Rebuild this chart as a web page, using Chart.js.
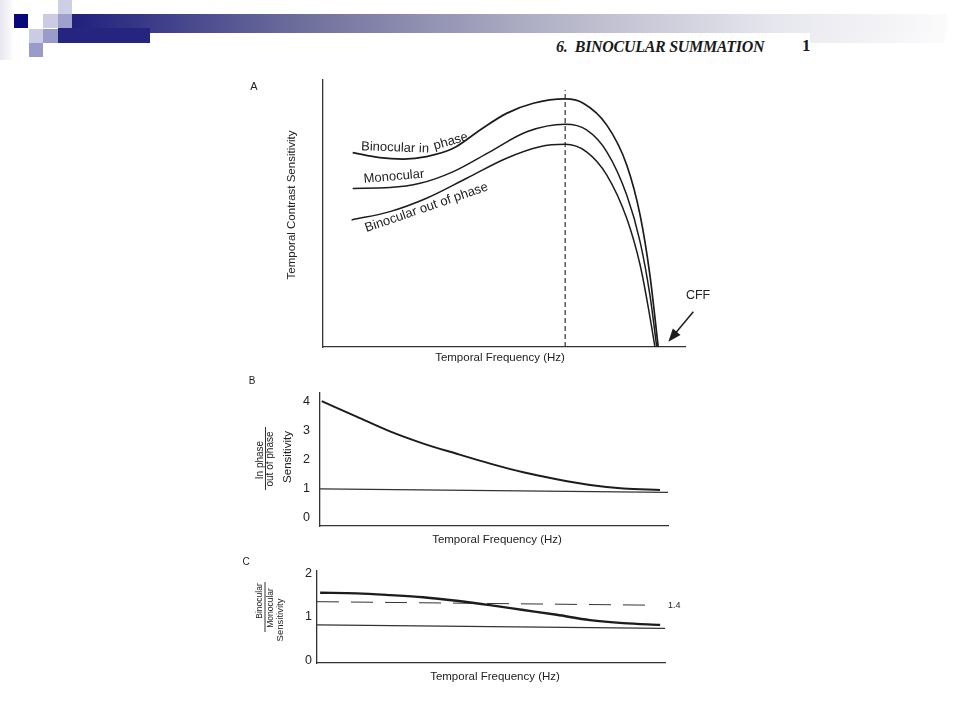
<!DOCTYPE html>
<html>
<head>
<meta charset="utf-8">
<script src="https://cdn.jsdelivr.net/npm/chart.js@4.4.1/dist/chart.umd.min.js"></script>
<style>
  body { margin: 0; width: 960px; height: 720px; background: #fff; position: relative; overflow: hidden; font-family: "Liberation Sans", Arial, sans-serif; }
  .sq { position: absolute; }
  canvas { position: absolute; }
  .head { position: absolute; font-family: "Liberation Serif", "Times New Roman", serif; color: #1a1a1a; white-space: nowrap; }
</style>
</head>
<body>

<!-- slide template decoration -->
<div class="sq" style="left:0;top:0;width:14px;height:60px;background:linear-gradient(90deg,#e6e6f0,#fff)"></div>
<div class="sq" style="left:58px;top:0;width:14px;height:14px;background:#cdd0e4"></div>
<div class="sq" style="left:14px;top:14px;width:14px;height:14px;background:#08087c"></div>
<div class="sq" style="left:43px;top:14px;width:15px;height:14px;background:#cbcbe3"></div>
<div class="sq" style="left:58px;top:14px;width:14px;height:14px;background:#a0a0cc"></div>
<div class="sq" style="left:29px;top:29px;width:14px;height:14px;background:#cbcbe3"></div>
<div class="sq" style="left:43px;top:29px;width:15px;height:14px;background:#9a9acb"></div>
<div class="sq" style="left:29px;top:43px;width:14px;height:14px;background:#9a9acb"></div>
<div class="sq" style="left:72px;top:14px;width:875px;height:19px;background:linear-gradient(90deg,#20207e 0%,#6e6e9c 26%,#b4b4c8 55%,#e6e6ee 80%,#fbfbfc 100%)"></div>
<div class="sq" style="left:58px;top:28px;width:92px;height:15px;background:#25257f"></div>
<div class="sq" style="left:810px;top:33px;width:135px;height:10px;background:linear-gradient(90deg,#ececf1,#fbfbfc)"></div>

<div class="head" style="left:556px;top:38px;font-size:16px;font-style:italic;font-weight:bold;letter-spacing:-0.3px;">6.&nbsp; BINOCULAR SUMMATION</div>
<div class="head" style="left:802px;top:36px;font-size:17px;font-weight:bold;">1</div>

<canvas id="chartA" width="480" height="300" style="left:240px;top:70px"></canvas>
<canvas id="chartB" width="440" height="170" style="left:240px;top:375px"></canvas>
<canvas id="chartC" width="460" height="135" style="left:240px;top:555px"></canvas>

<script>
// ---- data (arbitrary units 0..100 on A) ----
// panel A: temporal contrast sensitivity curves
const inPhaseX = [8.2, 15.7, 22.2, 28.6, 36.0, 43.4, 50.7, 58.1, 66.9, 71.9, 78.4, 83.9, 87.6, 90.3, 92.6];
const inPhaseY = [72.8, 70.9, 70.4, 71.3, 74.4, 81.3, 87.5, 91.3, 92.9, 91.3, 83.1, 68.2, 49.4, 27.0, 0];
const monoX = [8.2, 18.5, 26.8, 36.0, 46.1, 56.3, 66.9, 72.8, 78.4, 83.9, 87.6, 90.3, 92.2];
const monoY = [59.4, 59.7, 61.3, 65.7, 73.1, 80.6, 83.4, 81.3, 73.1, 56.9, 39.4, 19.5, 0];
const outPhaseX = [7.9, 18.5, 28.6, 39.7, 50.7, 59.9, 66.9, 72.8, 78.4, 83.9, 87.6, 89.9, 91.7];
const outPhaseY = [47.6, 50.7, 55.7, 63.2, 70.7, 75.0, 75.9, 73.1, 64.4, 48.2, 30.7, 14.5, 0];
const peakX = [66.9, 66.9];
const peakY = [0, 96.3];

// panel B: in phase / out of phase ratio
const ratioX = [0.5, 10.5, 20.1, 29.7, 39.3, 48.9, 58.4, 68.0, 77.6, 87.2, 97.7];
const ratioY = [4.0, 3.47, 2.96, 2.54, 2.19, 1.85, 1.55, 1.31, 1.11, 0.99, 0.94];
const oneLineBX = [0, 100];
const oneLineBY = [0.98, 0.86];
const ticksB = [0, 1, 2, 3, 4];

// panel C: binocular / monocular ratio
const binoX = [0.9, 11.4, 21.0, 30.5, 40.1, 49.7, 59.3, 68.9, 78.4, 88.0, 98.6];
const binoY = [1.555, 1.54, 1.50, 1.45, 1.37, 1.27, 1.16, 1.05, 0.93, 0.86, 0.82];
const oneLineCX = [0, 100];
const oneLineCY = [0.82, 0.74];
const sqrt2X = [0, 95.7];
const sqrt2Y = [1.35, 1.27];
const ticksC = [0, 1, 2];

const INK = '#1c1c1c';
const FONT = '"Liberation Sans", Arial, sans-serif';

function pts(xs, ys) {
  return xs.map((x, i) => ({ x: x, y: ys[i] }));
}

function curve(xs, ys, width) {
  return {
    data: pts(xs, ys),
    borderColor: INK,
    borderWidth: width,
    pointRadius: 0,
    fill: false,
    cubicInterpolationMode: 'monotone'
  };
}

function straight(xs, ys, width, dash) {
  return {
    data: pts(xs, ys),
    borderColor: '#333',
    borderWidth: width,
    borderDash: dash || [],
    pointRadius: 0,
    fill: false,
    tension: 0
  };
}

function drawText(ctx, text, x, y, size, angle, align) {
  ctx.save();
  ctx.translate(x, y);
  ctx.rotate((angle || 0) * Math.PI / 180);
  ctx.font = size + 'px ' + FONT;
  ctx.fillStyle = '#222';
  ctx.textAlign = align || 'center';
  ctx.textBaseline = 'middle';
  ctx.fillText(text, 0, 0);
  ctx.restore();
}

// yWidth: room kept for the y tick labels (labels are clipped to the scale box)
function scales(yMin, yMax, yTicks, tickPad, yWidth) {
  return {
    x: {
      type: 'linear', min: 0, max: 100,
      grid: { display: false, drawTicks: false },
      ticks: { display: false },
      border: { color: '#333', width: 1.3 },
      afterFit: s => { s.height = 0; }
    },
    y: {
      type: 'linear', min: yMin, max: yMax,
      grid: { display: false, drawTicks: false },
      ticks: {
        display: !!yTicks,
        padding: tickPad || 0,
        color: '#222',
        font: { family: FONT, size: 12.5 }
      },
      afterBuildTicks: s => { if (yTicks) s.ticks = yTicks.map(v => ({ value: v })); },
      border: { color: '#333', width: 1.3 },
      afterFit: s => { s.width = yWidth || 0; }
    }
  };
}

const common = {
  responsive: false,
  animation: false,
  devicePixelRatio: 1,
  plugins: { legend: { display: false }, tooltip: { enabled: false } }
};

// curve labels in panel A, placed in data units
const labelsA = [
  { text: 'Binocular in', x: 19.9, y: 74.6, angle: 2 },
  { text: 'phase', x: 35.3, y: 77.0, angle: -16 },
  { text: 'Monocular', x: 19.6, y: 63.8, angle: -5 },
  { text: 'Binocular out of phase', x: 28.6, y: 52.2, angle: -19 }
];

new Chart(document.getElementById('chartA'), {
  type: 'line',
  data: {
    datasets: [
      curve(inPhaseX, inPhaseY, 1.7),
      curve(monoX, monoY, 1.5),
      curve(outPhaseX, outPhaseY, 1.5),
      straight(peakX, peakY, 1.2, [5, 3])
    ]
  },
  options: Object.assign({}, common, {
    layout: { padding: { left: 83, right: 35, top: 10, bottom: 23 } },
    scales: scales(0, 100)
  }),
  plugins: [{
    id: 'notesA',
    afterDraw(chart) {
      const ctx = chart.ctx, xs = chart.scales.x, ys = chart.scales.y;
      labelsA.forEach(l => drawText(ctx, l.text, xs.getPixelForValue(l.x), ys.getPixelForValue(l.y), 13, l.angle));
      drawText(ctx, 'A', 14, 17, 11);
      drawText(ctx, 'Temporal Contrast Sensitivity', 52, 135, 11.5, -90);
      drawText(ctx, 'Temporal Frequency (Hz)', 260, 288, 11.5);
      // CFF marker
      drawText(ctx, 'CFF', xs.getPixelForValue(103.6), ys.getPixelForValue(19.1), 12.5);
      const x0 = xs.getPixelForValue(102.3), y0 = ys.getPixelForValue(13.2);
      const x1 = xs.getPixelForValue(95.4), y1 = ys.getPixelForValue(2.0);
      const a = Math.atan2(y1 - y0, x1 - x0);
      ctx.save();
      ctx.strokeStyle = INK;
      ctx.fillStyle = INK;
      ctx.lineWidth = 1.5;
      ctx.beginPath();
      ctx.moveTo(x0, y0);
      ctx.lineTo(x1 - 8 * Math.cos(a), y1 - 8 * Math.sin(a));
      ctx.stroke();
      ctx.beginPath();
      ctx.moveTo(x1, y1);
      ctx.lineTo(x1 - 13 * Math.cos(a) + 5 * Math.sin(a), y1 - 13 * Math.sin(a) - 5 * Math.cos(a));
      ctx.lineTo(x1 - 13 * Math.cos(a) - 5 * Math.sin(a), y1 - 13 * Math.sin(a) + 5 * Math.cos(a));
      ctx.closePath();
      ctx.fill();
      ctx.restore();
    }
  }]
});

new Chart(document.getElementById('chartB'), {
  type: 'line',
  data: {
    datasets: [
      curve(ratioX, ratioY, 2),
      straight(oneLineBX, oneLineBY, 1.2)
    ]
  },
  options: Object.assign({}, common, {
    layout: { padding: { left: 50, right: 12, top: 15, bottom: 19 } },
    scales: scales(-0.3, 4.3, ticksB, 10, 30)
  }),
  plugins: [{
    id: 'notesB',
    afterDraw(chart) {
      const ctx = chart.ctx;
      drawText(ctx, 'B', 12, 6, 10);
      drawText(ctx, 'In phase', 20.7, 85, 10, -90);
      drawText(ctx, 'out of phase', 30.7, 84, 10, -90);
      drawText(ctx, 'Sensitivity', 48.3, 82, 11.5, -90);
      ctx.save();
      ctx.strokeStyle = '#333';
      ctx.lineWidth = 1;
      ctx.beginPath();
      ctx.moveTo(25.5, 52);
      ctx.lineTo(25.5, 115);
      ctx.stroke();
      ctx.restore();
      drawText(ctx, 'Temporal Frequency (Hz)', 257, 165, 11.5);
    }
  }]
});

new Chart(document.getElementById('chartC'), {
  type: 'line',
  data: {
    datasets: [
      curve(binoX, binoY, 2.4),
      straight(oneLineCX, oneLineCY, 1.2),
      straight(sqrt2X, sqrt2Y, 1, [22, 12])
    ]
  },
  options: Object.assign({}, common, {
    layout: { padding: { left: 52, right: 35, top: 16, bottom: 27 } },
    scales: scales(-0.05, 2.05, ticksC, 5, 25)
  }),
  plugins: [{
    id: 'notesC',
    afterDraw(chart) {
      const ctx = chart.ctx;
      drawText(ctx, 'C', 6, 7, 10);
      drawText(ctx, 'Binocular', 19.3, 46, 8.5, -90);
      drawText(ctx, 'Monocular', 30.7, 53, 8.5, -90);
      drawText(ctx, 'Sensitivity', 40, 65, 9.5, -90);
      ctx.save();
      ctx.strokeStyle = '#333';
      ctx.lineWidth = 1;
      ctx.beginPath();
      ctx.moveTo(25, 27);
      ctx.lineTo(25, 77);
      ctx.stroke();
      ctx.restore();
      drawText(ctx, '1.4', 428, 51, 9, 0, 'left');
      drawText(ctx, 'Temporal Frequency (Hz)', 255, 122, 11.5);
    }
  }]
});
</script>
</body>
</html>
